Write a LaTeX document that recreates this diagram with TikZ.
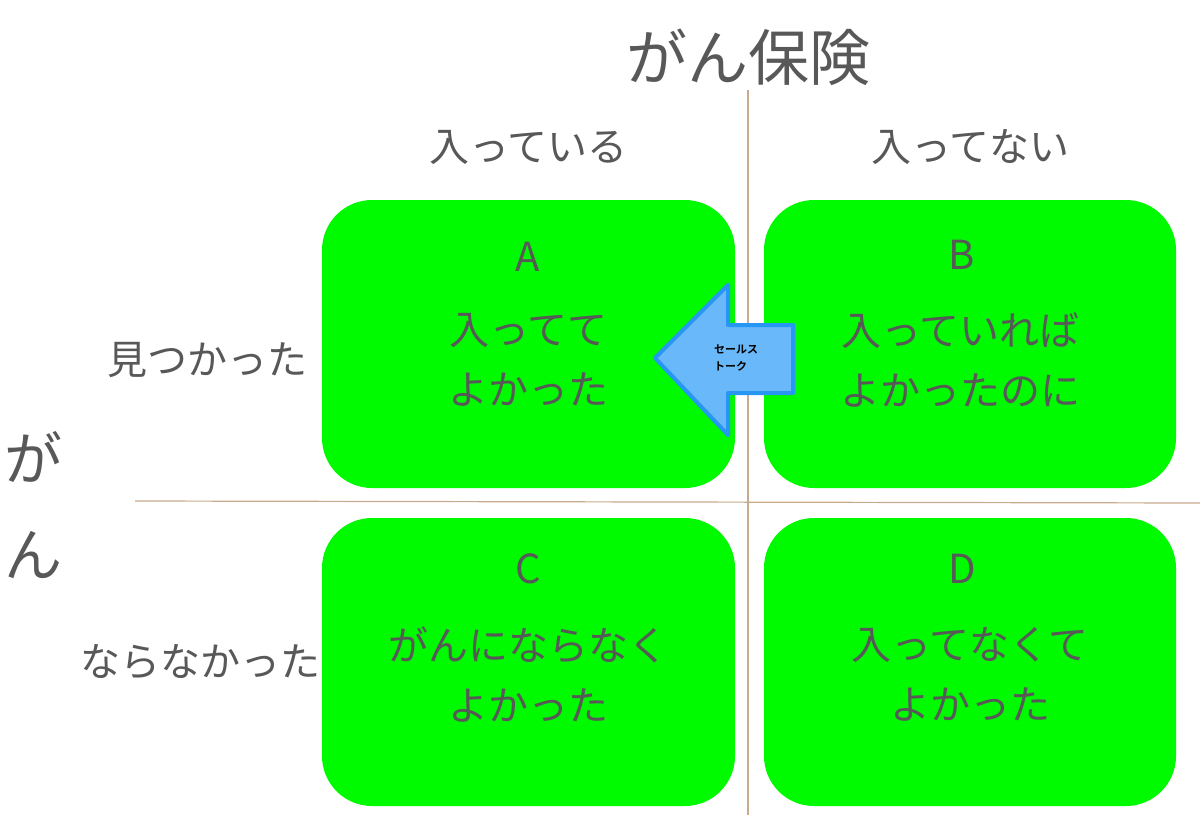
\documentclass[tikz,border=0pt]{standalone}
\usepackage{fontspec}
\setmainfont{Noto Sans CJK JP}
\newfontfamily\jpbold{Noto Sans CJK JP Bold}
\definecolor{boxgreen}{RGB}{0,250,0}
\definecolor{textgray}{RGB}{88,88,88}
\definecolor{axisline}{RGB}{200,170,140}
\definecolor{arrowfill}{RGB}{105,185,250}
\definecolor{arrowedge}{RGB}{40,150,245}

\begin{document}
\begin{tikzpicture}[x=1pt, y=-1pt]
        \tikzstyle{quad}=[fill=boxgreen,rounded corners=50pt]
        \tikzstyle{label}=[text=textgray,font=\fontsize{40}{46}\selectfont,inner sep=0pt]
        \tikzstyle{inbox}=[text=textgray,font=\fontsize{40}{60}\selectfont,align=center,inner sep=0pt]
        \tikzstyle{axis}=[draw=axisline,line width=1.2pt]

        \useasboundingbox (0,0) rectangle (1200,827);

        % the four boxes
        \fill[quad] (322,200) rectangle (735,488);
        \fill[quad] (764,200) rectangle (1176,488);
        \fill[quad] (322,518) rectangle (735,806);
        \fill[quad] (764,518) rectangle (1176,806);

        % axes
        \coordinate (V_1) at (748,90);
        \coordinate (V_2) at (748,815);
        \coordinate (H_1) at (135,501);
        \coordinate (H_2) at (1200,503);
        \draw[axis] (V_1) -- (V_2);
        \draw[axis] (H_1) -- (H_2);

        % headings
        \node[label,font=\fontsize{61}{60}\selectfont] (T) at (748,57) {がん保険};
        \node[label] (T_1) at (528,147) {入っている};
        \node[label] (T_2) at (970,147) {入ってない};
        \node[label] (S_1) at (207,360) {見つかった};
        \node[label] (S_2) at (200,662) {ならなかった};
        \node[label,font=\fontsize{58}{96}\selectfont,align=center] (S) at (34,505) {が\\ん};

        % box texts
        \node[label] (A) at (528,257) {A};
        \node[inbox] (A_t) at (528,360) {入ってて\\よかった};
        \node[label] (B) at (962,255) {B};
        \node[inbox] (B_t) at (960,360) {入っていれば\\よかったのに};
        \node[label] (C) at (528,569) {C};
        \node[inbox] (C_t) at (528,674) {がんにならなく\\よかった};
        \node[label] (D) at (962,569) {D};
        \node[inbox] (D_t) at (970,674) {入ってなくて\\よかった};

        % sales talk arrow
        \filldraw[fill=arrowfill,draw=arrowedge,line width=4pt,line join=round]
            (655,358) -- (728,285) -- (728,325) -- (793,325) -- (793,393)
            -- (728,393) -- (728,435) -- cycle;
        \node[font=\jpbold\fontsize{11}{17}\selectfont,align=left,inner sep=0pt] (talk) at (736,358) {セールス\\トーク};
    \end{tikzpicture}
\end{document}
